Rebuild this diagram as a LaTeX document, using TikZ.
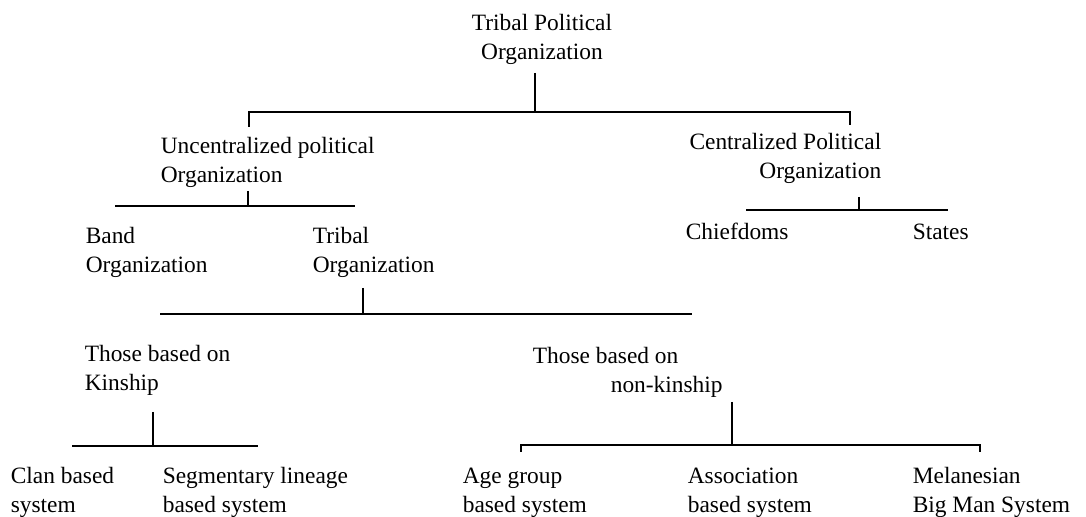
\documentclass[tikz,border=0pt]{standalone}
\usepackage{fontspec}
\setmainfont{Liberation Serif}

\begin{document}
\begin{tikzpicture}[x=0.5pt, y=-0.5pt, line width=0.8pt,
    lbl/.style={inner sep=0pt, anchor=base west, align=left, font=\fontsize{11.7}{14.5}\selectfont}]
    \useasboundingbox (0,0) rectangle (1086,517);

    % Nodes (base = last line)
    \node[lbl, anchor=base, align=center] (tribalpol) at (542,60) {Tribal Political\\Organization};
    \node[lbl] (uncent) at (160,183) {Uncentralized political\\Organization};
    \node[lbl, anchor=base east, align=right] (cent) at (882,179) {Centralized Political\\Organization};
    \node[lbl] (band) at (85,273) {Band\\Organization};
    \node[lbl] (tribalorg) at (312,273) {Tribal\\Organization};
    \node[lbl] (chief) at (685,240) {Chiefdoms};
    \node[lbl] (states) at (912,240) {States};
    \node[lbl] (kin) at (84,391) {Those based on\\Kinship};
    \node[lbl] (nonkin) at (532,393) {Those based on\\\hspace*{39pt}non-kinship};
    \node[lbl] (clan) at (10,513) {Clan based\\system};
    \node[lbl] (seg) at (162,513) {Segmentary lineage\\based system};
    \node[lbl] (age) at (462,513) {Age group\\based system};
    \node[lbl] (assoc) at (687,513) {Association\\based system};
    \node[lbl] (mel) at (912,513) {Melanesian\\Big Man System};

    % Junctions
    \coordinate (tribalpol-out) at (535,73);
    \coordinate (uncent-in) at (249,127);
    \coordinate (cent-in) at (850,125);
    \coordinate (uncent-out) at (248,191);
    \coordinate (cent-out) at (859,197);
    \coordinate (tribalorg-out) at (363,288);
    \coordinate (kin-out) at (153,412);
    \coordinate (nonkin-out) at (732,402);
    \coordinate (age-in) at (521,452);
    \coordinate (mel-in) at (980,452);

    % Lines
    \draw (uncent-in) |- (cent-in |- 0,112) -- (cent-in);
    \draw (tribalpol-out) -- (tribalpol-out |- 0,112);
    \draw (uncent-out) -- (uncent-out |- 0,206);
    \draw (115,206) -- (355,206);
    \draw (cent-out) -- (cent-out |- 0,210);
    \draw (746,210) -- (948,210);
    \draw (tribalorg-out) -- (tribalorg-out |- 0,314);
    \draw (160,314) -- (692,314);
    \draw (kin-out) -- (kin-out |- 0,446);
    \draw (72,446) -- (258,446);
    \draw (nonkin-out) -- (nonkin-out |- 0,445);
    \draw (age-in) |- (mel-in |- 0,445) -- (mel-in);
\end{tikzpicture}
\end{document}
